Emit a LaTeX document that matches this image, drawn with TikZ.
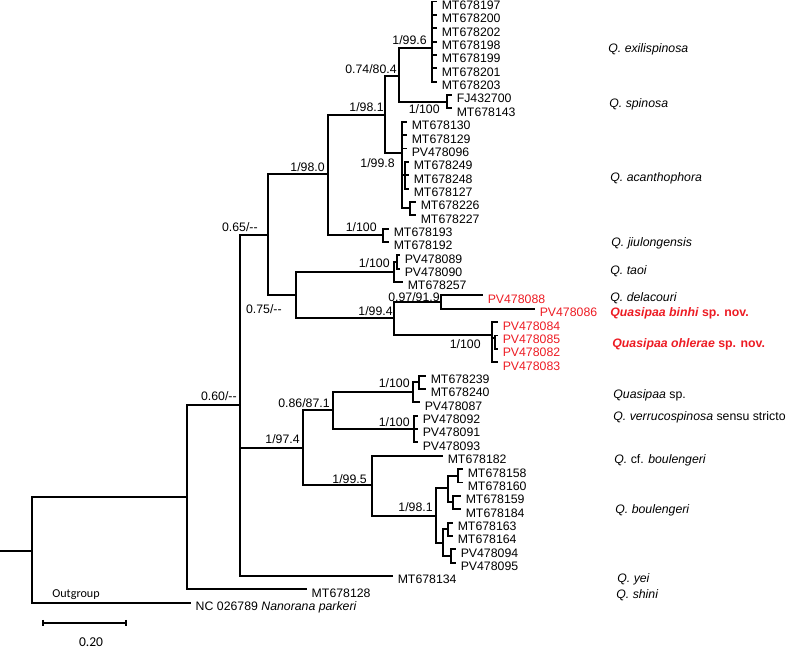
\documentclass[tikz,border=0pt]{standalone}
\usepackage{fontspec}
\setmainfont{Liberation Sans}
\newfontfamily\calfont{Carlito}
\definecolor{novRed}{HTML}{ED1C24}

\begin{document}
\begin{tikzpicture}[
    x=0.02cm, y=-0.02cm,
    br/.style={line width=1.1pt},
    tip/.style={anchor=base west, inner xsep=2.5pt, inner ysep=0pt,
        yshift=-4.5pt, font=\fontsize{7}{8}\selectfont},
    newtip/.style={tip, text=novRed},
    bs/.style={anchor=base east, inner sep=0pt, yshift=-2.5pt,
        font=\fontsize{7}{8}\selectfont},
    taxon/.style={anchor=base west, inner sep=0pt, yshift=-2.5pt,
        font=\fontsize{7}{8}\selectfont},
    newtaxon/.style={taxon, text=novRed, font=\fontsize{7}{8}\selectfont\bfseries},
]
\useasboundingbox (0,0) rectangle (790,647);
\def\dy{13.36}
\def\yo{1.5}

% internal nodes (x = vertical bar, y = incoming branch)
\coordinate (r0) at (0,551);
\coordinate (nR) at (32,551);
\coordinate (n187) at (187,497);
\coordinate (n240) at (240,405);
\coordinate (n268) at (268,235);
\coordinate (n328) at (328,174);
\coordinate (n385) at (385,115);
\coordinate (n399) at (399,76);
\coordinate (nExi) at (432,48);
\coordinate (nSpi) at (447,102);
\coordinate (nAca) at (402,153);
\coordinate (nAcaA) at (405,175);
\coordinate (nAcaB) at (410,208);
\coordinate (nJiu) at (383,235);
\coordinate (n296) at (296,295);
\coordinate (nTao) at (394,272);
\coordinate (nTaoA) at (397,262);
\coordinate (n394) at (394,318);
\coordinate (n441) at (441,302);
\coordinate (nOhl) at (492,335);
\coordinate (nOhlA) at (495,338);
\coordinate (n303) at (303,448);
\coordinate (n333) at (333,410);
\coordinate (nQsp) at (413,392);
\coordinate (nQspA) at (419,382);
\coordinate (nVer) at (414,429);
\coordinate (n372) at (372,485);
\coordinate (n436) at (436,516);
\coordinate (n448) at (448,488);
\coordinate (nB158) at (458,476);
\coordinate (nB159) at (453,502);
\coordinate (n443) at (443,543);
\coordinate (nB163) at (448,529);
\coordinate (nB094) at (451,556);

% backbone
\draw[br] (r0) -- (nR);
\draw[br] (nR) |- (n187);
\draw[br] (n187) |- (n240);
\draw[br] (n240) |- (n268);
\draw[br] (n240) |- (n303);
\draw[br] (n268) |- (n328);
\draw[br] (n268) |- (n296);
\draw[br] (n328) |- (n385);
\draw[br] (n328) |- (nJiu);
\draw[br] (n385) |- (n399);
\draw[br] (n385) |- (nAca);
\draw[br] (n399) |- (nExi);
\draw[br] (n399) |- (nSpi);
\draw[br] (nAca) |- (nAcaA);
\draw[br] (nAca) |- (nAcaB);
\draw[br] (n296) |- (nTao);
\draw[br] (n296) |- (n394);
\draw[br] (nTao) |- (nTaoA);
\draw[br] (n394) |- (n441);
\draw[br] (n394) |- (nOhl);
\draw[br] (nOhl) |- (nOhlA);
\draw[br] (n303) |- (n333);
\draw[br] (n303) |- (n372);
\draw[br] (n333) |- (nQsp);
\draw[br] (n333) |- (nVer);
\draw[br] (nQsp) |- (nQspA);
\draw[br] (n372) |- (n436);
\draw[br] (n436) |- (n448);
\draw[br] (n436) |- (n443);
\draw[br] (n448) |- (nB158);
\draw[br] (n448) |- (nB159);
\draw[br] (n443) |- (nB163);
\draw[br] (n443) |- (nB094);

% leaves: parent / branch end / row / accession
\foreach \p/\x/\k/\lab in {
    nExi/437/0/MT678197, nExi/437/1/MT678200, nExi/437/2/MT678202,
    nExi/437/3/MT678198, nExi/437/4/MT678199, nExi/437/5/MT678201,
    nExi/437/6/MT678203,
    nSpi/452/7/FJ432700, nSpi/452/8/MT678143,
    nAca/407/9/MT678130, nAca/407/10/MT678129, nAca/407/11/PV478096,
    nAcaA/409/12/MT678249, nAcaA/409/13/MT678248, nAcaA/409/14/MT678127,
    nAcaB/416/15/MT678226, nAcaB/416/16/MT678227,
    nJiu/389/17/MT678193, nJiu/389/18/MT678192,
    nTaoA/400/19/PV478089, nTaoA/400/20/PV478090, nTao/403/21/MT678257,
    nQspA/426/28/MT678239, nQspA/426/29/MT678240, nQsp/420/30/PV478087,
    nVer/418/31/PV478092, nVer/418/32/PV478091, nVer/418/33/PV478093,
    n372/443/34/MT678182,
    nB158/463/35/MT678158, nB158/463/36/MT678160,
    nB159/461/37/MT678159, nB159/461/38/MT678184,
    nB163/453/39/MT678163, nB163/453/40/MT678164,
    nB094/456/41/PV478094, nB094/456/42/PV478095,
    n240/393/43/MT678134, n187/307/44/MT678128,
    nR/191/45/{NC 026789 \textit{Nanorana parkeri}}} {
    \coordinate (lf\k) at (\x, {\yo+\k*\dy});
    \node[tip] (tx\k) at (lf\k) {\lab};
    \draw[br] (\p) |- (lf\k);
}

% new species leaves (red)
\foreach \p/\x/\k/\lab in {
    n441/483/22/PV478088, n441/535/23/PV478086,
    nOhl/498/24/PV478084, nOhlA/498/25/PV478085,
    nOhlA/498/26/PV478082, nOhl/498/27/PV478083} {
    \coordinate (lf\k) at (\x, {\yo+\k*\dy});
    \node[newtip] (tx\k) at (lf\k) {\lab};
    \draw[br] (\p) |- (lf\k);
}

% support values (BI / ML)
\foreach \x/\y/\v [count=\i] in {
    427/40/{1/99.6}, 397/69/{0.74/80.4}, 384/107/{1/98.1},
    440/109/{1/100}, 395/163/{1/99.8}, 325/167/{1/98.0},
    258/227/{0.65/-{}-}, 377/227/{1/100}, 390/263/{1/100},
    282/309/{0.75/-{}-}, 393/311/{1/99.4}, 440/297/{0.97/91.9},
    481/344/{1/100}, 237/396/{0.60/-{}-}, 410/383/{1/100},
    330/403/{0.86/87.1}, 410/422/{1/100}, 300/439/{1/97.4},
    367/479/{1/99.5}, 433/507/{1/98.1}} {
    \node[bs] (bs\i) at (\x,\y) {\v};
}

% species names
\foreach \x/\y/\v [count=\i] in {
    608/48/{\textit{Q. exilispinosa}}, 609/103/{\textit{Q. spinosa}},
    610/177/{\textit{Q. acanthophora}}, 611/242/{\textit{Q. jiulongensis}},
    610/270/{\textit{Q. taoi}}, 610/297/{\textit{Q. delacouri}},
    613/394/{\textit{Quasipaa} sp.},
    613/416/{\textit{Q. verrucospinosa} sensu stricto},
    614/459/{\textit{Q.} cf. \textit{boulengeri}},
    615/509/{\textit{Q. boulengeri}},
    617/578/{\textit{Q. yei}}, 616/594/{\textit{Q. shini}}} {
    \node[taxon] (sp\i) at (\x,\y) {\v};
}
\node[newtaxon] (spBinhi) at (610,312) {\textit{Quasipaa binhi} sp. nov.};
\node[newtaxon] (spOhlerae) at (612,343) {\textit{Quasipaa ohlerae} sp. nov.};

% outgroup tag
\node[anchor=base west, inner sep=0pt, font=\calfont\fontsize{6.9}{8}\selectfont]
    (outTag) at (52,597) {Outgroup};

% scale bar
\coordinate (sbL) at (43,623);
\coordinate (sbR) at (126,623);
\draw[br] (sbL) -- (sbR);
\draw[br] ([yshift=1.8pt]sbL) -- ([yshift=-1.8pt]sbL);
\draw[br] ([yshift=1.8pt]sbR) -- ([yshift=-1.8pt]sbR);
\node[anchor=base, inner sep=0pt, font=\calfont\fontsize{7.7}{9}\selectfont]
    (sbLab) at (91,646) {0.20};

\end{tikzpicture}
\end{document}
